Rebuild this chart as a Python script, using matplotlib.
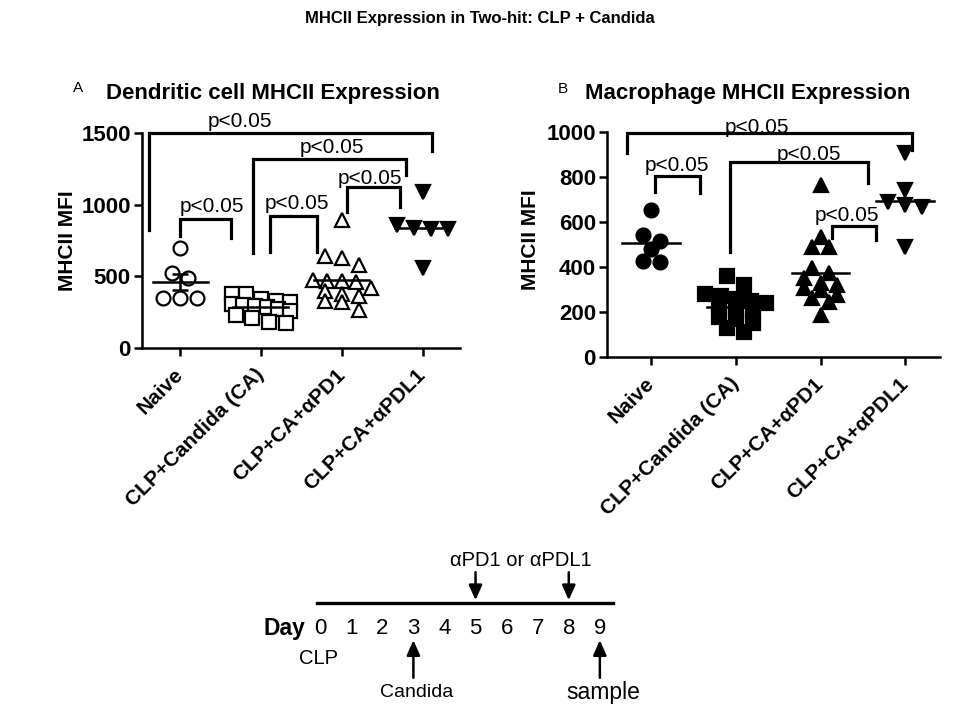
import numpy as np
import matplotlib
matplotlib.use("Agg")
import matplotlib.pyplot as plt

plt.rcParams['font.family'] = ['Liberation Sans', 'DejaVu Sans']

groups = ['Naive', 'CLP+Candida (CA)', 'CLP+CA+αPD1', 'CLP+CA+αPDL1']

# A - dendritic cell MHCII MFI
dc_naive = [698, 523, 488, 349, 349, 349]
dc_ca = [380, 375, 340, 330, 320, 310, 300, 290, 285, 270, 260, 230, 210, 180, 175]
dc_pd1 = [890, 640, 625, 580, 475, 470, 465, 460, 420, 400, 380, 360, 330, 320, 265]
dc_pdl1 = [1090, 860, 830, 830, 835, 560]

# B - macrophage MHCII MFI
mac_naive = [653, 542, 516, 480, 422, 427]
mac_ca = [360, 320, 280, 270, 260, 250, 240, 230, 210, 200, 180, 170, 150, 130, 110]
mac_pd1 = [764, 533, 489, 489, 373, 396, 329, 307, 298, 320, 351, 262, 244, 276, 187]
mac_pdl1 = [907, 742, 676, 667, 689, 489]

# brackets: x left, x right, left leg bottom, top, right leg bottom, text x, text y
dc_brackets = [
    (-0.38, 3.11, 823, 1500, 1375, 0.74, 1577),
    (0.90, 2.79, 663, 1320, 1207, 1.88, 1396),
    (2.06, 2.72, 949, 1123, 984, 2.35, 1186),
    (0.00, 0.63, 782, 900, 767, 0.40, 984),
    (1.11, 1.69, 670, 921, 670, 1.44, 1005),
]
mac_brackets = [
    (-0.28, 3.08, 907, 996, 920, 1.25, 1018),
    (0.05, 0.58, 733, 804, 729, 0.31, 853),
    (0.93, 2.56, 467, 867, 773, 1.86, 898),
    (2.13, 2.65, 529, 582, 520, 2.31, 631),
]

# timeline
days = list(range(10))


def swarm(ax, vals, center, size_px, maxhalf=0.36):
    # rows of nearby values spread out sideways, like a GraphPad scatter
    t = ax.transData
    px_unit = t.transform((1, 0))[0] - t.transform((0, 0))[0]
    ys = [t.transform((center, v))[1] for v in vals]
    order = np.argsort(ys)[::-1]
    rows, cur = [], []
    for idx in order:
        if cur and ys[cur[0]] - ys[idx] > 0.75 * size_px:
            rows.append(cur)
            cur = []
        cur.append(idx)
    rows.append(cur)
    xs = np.zeros(len(vals))
    for row in rows:
        n = len(row)
        sp = min(1.3 * size_px, 2 * maxhalf * px_unit / max(n - 1, 1))
        for k, idx in enumerate(row):
            xs[idx] = center + (k - (n - 1) / 2) * sp / px_unit
    return xs


def panel(ax, data, markers, filled, ymax, yticks, brackets, sem):
    ax.set_ylim(0, ymax)
    for i, vals in enumerate(data):
        xs = swarm(ax, vals, i, 13)
        fc = 'black' if filled[i] else 'white'
        ax.plot(xs, vals, linestyle='none', marker=markers[i], ms=10,
                mfc=fc, mec='black', mew=1.6, zorder=3)
        m = np.mean(vals)
        ax.plot([i - 0.34, i + 0.34], [m, m], color='black', lw=1.8, zorder=4)
        if sem[i]:
            e = np.std(vals, ddof=1) / np.sqrt(len(vals))
            ax.errorbar(i, m, yerr=e, color='black', lw=1.8, capsize=6,
                        capthick=1.8, zorder=4)
    for x0, x1, y0, yt, y1, tx, ty in brackets:
        ax.plot([x0, x0, x1, x1], [y0, yt, yt, y1], color='black', lw=2.3,
                clip_on=False, solid_joinstyle='miter', zorder=2)
        ax.text(tx, ty, 'p<0.05', ha='center', va='center', fontsize=15,
                clip_on=False)
    ax.spines['top'].set_visible(False)
    ax.spines['right'].set_visible(False)
    ax.spines['left'].set_linewidth(1.8)
    ax.spines['bottom'].set_linewidth(1.8)
    ax.set_yticks(yticks)
    ax.set_xticks(range(4))
    ax.set_xticklabels(groups, rotation=45, ha='right', va='center',
                       rotation_mode='anchor', fontweight='bold', fontsize=15)
    for lab in ax.get_yticklabels():
        lab.set_fontweight('bold')
    ax.tick_params(axis='both', width=1.8, length=6)
    ax.tick_params(axis='y', labelsize=16, pad=2)
    ax.tick_params(axis='x', pad=11)
    ax.set_ylabel('MHCII MFI', fontweight='bold', fontsize=15)


fig = plt.figure(figsize=(9.6, 7.2), dpi=100)

axA = fig.add_axes([142 / 960, 1 - 348 / 720, 318 / 960, 215 / 720])
axA.set_xlim(-0.47, 3.46)
panel(axA, [dc_naive, dc_ca, dc_pd1, dc_pdl1], ['o', 's', '^', 'v'],
      [False, False, False, True], 1500, [0, 500, 1000, 1500], dc_brackets,
      [True, False, False, False])
axA.yaxis.set_label_coords(-0.204, 0.5)

axB = fig.add_axes([607 / 960, 1 - 357 / 720, 333 / 960, 225 / 720])
axB.set_xlim(-0.52, 3.41)
panel(axB, [mac_naive, mac_ca, mac_pd1, mac_pdl1], ['o', 's', '^', 'v'],
      [True, True, True, True], 1000, [0, 200, 400, 600, 800, 1000], mac_brackets,
      [False, False, False, False])
axB.yaxis.set_label_coords(-0.20, 0.52)

fig.text(0.5, 1 - 18 / 720, 'MHCII Expression in Two-hit: CLP + Candida',
         ha='center', va='center', fontsize=12, fontweight='bold')
fig.text(273 / 960, 1 - 93 / 720, 'Dendritic cell MHCII Expression',
         ha='center', va='center', fontsize=16, fontweight='bold')
fig.text(748 / 960, 1 - 93 / 720, 'Macrophage MHCII Expression',
         ha='center', va='center', fontsize=16, fontweight='bold')
fig.text(78 / 960, 1 - 88 / 720, 'A', ha='center', va='center', fontsize=11)
fig.text(563 / 960, 1 - 89 / 720, 'B', ha='center', va='center', fontsize=11)

# timeline
axT = fig.add_axes([258 / 960, 15 / 720, 404 / 960, 160 / 720])
axT.set_xlim(-2, 11)
axT.set_ylim(0, 1)
axT.axis('off')
axT.plot([-0.1, 9.42], [0.6375, 0.6375], color='black', lw=2.4)
for d in days:
    axT.text(d, 0.48, str(d), ha='center', va='center', fontsize=16)
axT.text(-1.15, 0.48, 'Day', ha='center', va='center', fontsize=16.5, fontweight='bold')
arrow = dict(arrowstyle='-|>,head_length=0.9,head_width=0.4', color='black', lw=1.8,
             shrinkA=0, shrinkB=0)
for d in [5, 8]:
    axT.annotate('', xy=(d, 0.655), xytext=(d, 0.83), arrowprops=arrow)
for d in [3, 9]:
    axT.annotate('', xy=(d, 0.405), xytext=(d, 0.17), arrowprops=arrow)
axT.text(6.45, 0.905, 'αPD1 or αPDL1', ha='center', va='center', fontsize=14.5)
axT.text(-0.05, 0.29, 'CLP', ha='center', va='center', fontsize=14.5)
axT.text(3.1, 0.08, 'Candida', ha='center', va='center', fontsize=14)
axT.text(9.1, 0.08, 'sample', ha='center', va='center', fontsize=16.5)

fig.savefig('out.png', dpi=100)
